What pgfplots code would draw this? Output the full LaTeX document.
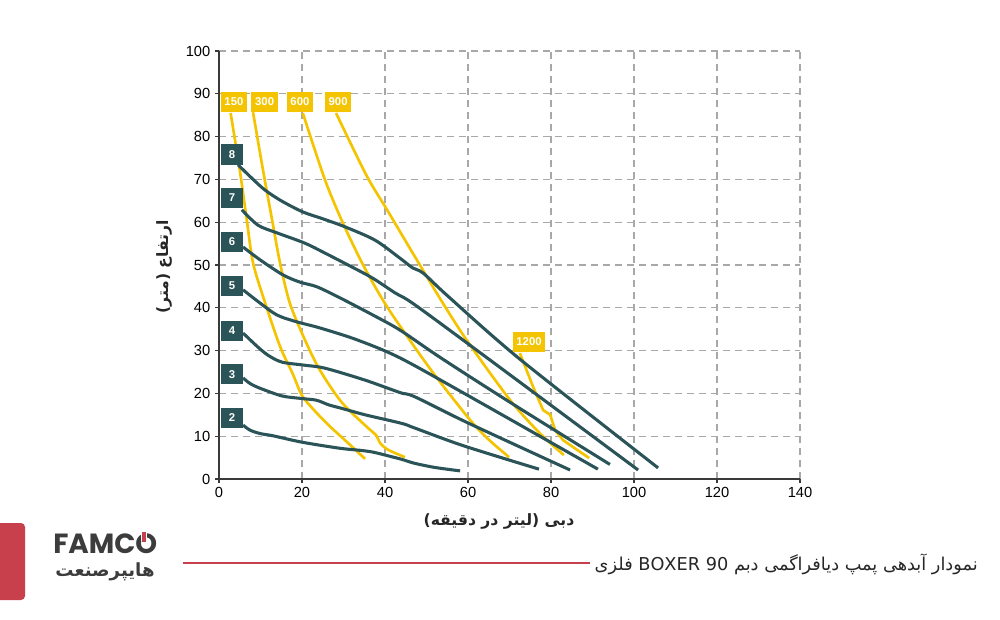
\documentclass[border=0pt]{standalone}
\usepackage{pgfplots}
\pgfplotsset{compat=1.18}
\usepackage{fontspec}
\setmainfont{Liberation Sans}
\newfontfamily\arabicfont[Script=Arabic]{DejaVu Sans}
\newfontfamily\logofont{Poppins}
\TeXXeTstate=1
\definecolor{tealc}{HTML}{2B5458}
\definecolor{gold}{HTML}{F5C400}
\definecolor{gridgray}{HTML}{A8A8A8}
\definecolor{famred}{HTML}{C8404B}
\definecolor{axgray}{HTML}{3A3A3A}
\definecolor{logogray}{HTML}{3C3C3C}
\begin{document}
\begin{tikzpicture}
\useasboundingbox (0pt,0pt) rectangle (750pt,-465pt);
\begin{axis}[
  at={(164.25pt,-359.25pt)}, anchor=south west,
  scale only axis, width=435.75pt, height=321pt,
  xmin=0, xmax=140, ymin=0, ymax=100,
  xtick={0,20,...,140}, ytick={0,10,...,100},
  axis x line*=bottom, axis y line*=left,
  axis line style={axgray, line width=1.1pt},
  tick style={axgray, line width=0.9pt},
  tick align=outside, major tick length=3pt,
  grid=major,
  major grid style={gridgray, line width=0.9pt, dash pattern=on 5.5pt off 3.5pt},
  ticklabel style={font=\fontsize{11}{12}\selectfont, text=black},
  /pgf/number format/assume math mode=true,
  clip=false,
]
% yellow curves (stroke rate)
\addplot[gold, line width=2pt, smooth] coordinates {
(2.8,85.5)(5,72.2)(6.7,60.5)(8.2,50.5)(11,41.5)(14.7,31)(17.8,24.5)(20,19.5)(23,16)(26.5,12.5)(31,8.5)(35.2,4.7)};
\addplot[gold, line width=2pt, smooth] coordinates {
(8.2,85.7)(10.6,72.2)(12.8,60.5)(14.7,50.5)(17,41.3)(20.2,33.6)(24.1,25.8)(29.5,18)(35.7,12.1)(37.8,10.3)(38.9,8.3)(40.8,6.8)(44.8,5.1)};
\addplot[gold, line width=2pt, smooth] coordinates {
(20.2,85.5)(25.5,70)(30,59.5)(35,49.5)(40,41)(45,33.8)(51.6,24.8)(60.5,13.8)(65,9.2)(69.9,5.1)};
\addplot[gold, line width=2pt, smooth] coordinates {
(28.2,85.5)(35.5,71)(40.5,62.9)(44.1,57)(48.4,50)(54,41)(60,32)(70.1,18.5)(77.3,10.7)(83.1,5.6)};
\addplot[gold, line width=2pt] coordinates {
(72.5,29.4)(75.7,21.5)(78.1,16.1)(79.8,15)(81,11.4)(82.9,9.1)(86,7)(89.2,4.9)};
% teal curves (air pressure)
\addplot[tealc, line width=2.3pt, smooth] coordinates {
(5.8,12.6)(7.5,11.4)(10,10.6)(13,10.1)(20,8.6)(29,7.2)(34,6.7)(37,6.3)(40,5.6)(44,4.6)(47,3.7)(52,2.7)(58.1,1.9)};
\addplot[tealc, line width=2.3pt, smooth] coordinates {
(5.8,23.6)(7.5,22.3)(9.9,21.2)(15.2,19.4)(20,18.8)(23.5,18.4)(26.5,17.3)(29.2,16.6)(35.2,15)(44,13)(47.2,11.9)(58.8,7.8)(77.1,2.3)};
\addplot[tealc, line width=2.3pt, smooth] coordinates {
(5.8,34.1)(9.4,30.8)(12,28.8)(15.2,27.3)(20.5,26.6)(25.5,25.9)(35.2,23.1)(43.6,20.2)(47.2,19.2)(60,13.1)(84.6,2.1)};
\addplot[tealc, line width=2.3pt, smooth] coordinates {
(5.8,44.2)(9.9,41.1)(14,38.3)(18.8,36.7)(24.3,35.3)(33.3,32.5)(43.6,28.3)(60,19.5)(91.3,2.3)};
\addplot[tealc, line width=2.3pt, smooth] coordinates {
(5.8,54.2)(9.9,51.2)(15.4,47.7)(19.5,46)(23.6,44.9)(29.2,42.3)(37.1,38.3)(43.6,34.8)(53.3,28.4)(70,18)(94.2,3.4)};
\addplot[tealc, line width=2.3pt, smooth] coordinates {
(5.5,62.9)(9.4,59.3)(14,57.5)(20.7,55.1)(25.5,52.8)(31.1,50)(36.9,47)(42.4,43.5)(47.2,40.7)(65.3,27.8)(101,2.1)};
\addplot[tealc, line width=2.3pt, smooth] coordinates {
(4.6,73.4)(8,70.2)(11.1,67.5)(15,65)(20.2,62.4)(25,60.8)(30.4,58.9)(37.6,55.8)(43.6,51.6)(46.7,49.3)(49.2,48.1)(55.3,42.6)(72.5,28)(105.8,2.6)};
% labels
\tikzset{tl/.style={fill=tealc, text=white, font=\bfseries\fontsize{8.5}{9}\selectfont, minimum width=17pt, minimum height=15.4pt, inner sep=0pt},
         yl/.style={fill=gold, text=white, font=\bfseries\fontsize{8.5}{9}\selectfont, minimum width=20pt, minimum height=14.5pt, inner sep=0pt}}
\node[tl] at (axis cs:3.13,75.8) {8};
\node[tl] at (axis cs:3.13,65.7) {7};
\node[tl] at (axis cs:3.13,55.4) {6};
\node[tl] at (axis cs:3.13,45.1) {5};
\node[tl] at (axis cs:3.13,34.6) {4};
\node[tl] at (axis cs:3.13,24.5) {3};
\node[tl] at (axis cs:3.13,14.3) {2};
\node[yl] at (axis cs:3.6,88.1) {150};
\node[yl] at (axis cs:11.0,88.1) {300};
\node[yl] at (axis cs:19.5,88.1) {600};
\node[yl] at (axis cs:28.7,88.1) {900};
\node[yl, minimum width=23.8pt, minimum height=15.5pt] at (axis cs:74.7,32.0) {1200};
\end{axis}
\begin{scope}[x=0.75pt,y=-0.75pt]
% axis titles
\node[font=\arabicfont\bfseries\fontsize{11.7}{14}\selectfont, text=black!85] at (499,521) {\beginR دبی (لیتر در دقیقه)\endR};
\node[rotate=90, font=\arabicfont\bfseries\fontsize{11.7}{14}\selectfont, text=black!85] at (164,267) {\beginR ارتفاع (متر)\endR};
% footer
\fill[famred, rounded corners=3pt] (-10,523) rectangle (25,600);
\draw[famred, line width=1.5pt] (183,563) -- (590,563);
\node[anchor=east, font=\arabicfont\fontsize{13.3}{15}\selectfont, text=black!85, inner sep=0pt] at (978,564) {\beginR نمودار آبدهی پمپ دیافراگمی دبم \beginL BOXER 90\endL{} فلزی\endR};
\node[anchor=base west, font=\logofont\bfseries\fontsize{20.8}{22}\selectfont, text=logogray, inner sep=0pt, text depth=0pt] (logo) at (53,553) {FAMCO};
\fill[white] ([xshift=-12.5pt,yshift=0.5pt]logo.north east) rectangle ([xshift=-8pt,yshift=-6pt]logo.north east);
\fill[famred] ([xshift=-11.8pt,yshift=1pt]logo.north east) rectangle ([xshift=-8.7pt,yshift=-7pt]logo.north east);
\node[anchor=base, font=\arabicfont\bfseries\fontsize{13.6}{15}\selectfont, text=logogray, inner sep=0pt, text height=7pt] at (105,576) {\beginR هایپرصنعت\endR};
\end{scope}
\end{tikzpicture}
\end{document}
